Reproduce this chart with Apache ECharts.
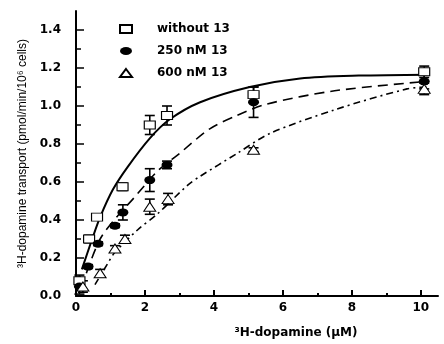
<!DOCTYPE html>
<html>
<head>
<meta charset="utf-8">
<script src="https://cdn.jsdelivr.net/npm/echarts@6/dist/echarts.min.js"></script>
<style>
  html, body { margin: 0; padding: 0; background: #fff; }
  #chart { width: 444px; height: 344px; }
</style>
</head>
<body>
<div id="chart"></div>
<script>
// measured points: x = dopamine (uM), y = transport, err = half error bar
const ctrlX = [0.1, 0.38, 0.61, 1.35, 2.14, 2.64, 5.15, 10.1];
const ctrlY = [0.08, 0.30, 0.415, 0.575, 0.90, 0.95, 1.06, 1.18];
const ctrlErr = [0.03, 0.02, 0.015, 0.02, 0.05, 0.05, 0.04, 0.03];

const mid250X = [0.1, 0.35, 0.64, 1.13, 1.36, 2.14, 2.64, 5.15, 10.1];
const mid250Y = [0.05, 0.155, 0.275, 0.37, 0.44, 0.61, 0.69, 1.02, 1.13];
const mid250Err = [0.04, 0.01, 0.01, 0.01, 0.04, 0.06, 0.02, 0.08, 0.04];

const hi600X = [0.2, 0.7, 1.13, 1.42, 2.14, 2.67, 5.15, 10.1];
const hi600Y = [0.05, 0.12, 0.25, 0.30, 0.47, 0.51, 0.77, 1.09];
const hi600Err = [0.03, 0.02, 0.015, 0.02, 0.04, 0.03, 0.01, 0.03];

// fitted curves
const fitCtrlX = [0.17, 0.45, 0.7, 1.07, 1.5, 2.14, 2.72, 3.6, 5.04, 6.5, 8.2, 10.2];
const fitCtrlY = [0.14, 0.29, 0.415, 0.56, 0.68, 0.83, 0.93, 1.02, 1.10, 1.145, 1.16, 1.165];
const fit250X = [0.3, 0.7, 1.2, 1.65, 2.38, 3.0, 3.88, 4.67, 5.53, 7.5, 10.2];
const fit250Y = [0.12, 0.30, 0.42, 0.51, 0.66, 0.75, 0.88, 0.95, 1.01, 1.08, 1.13];
const fit600X = [0.55, 0.9, 1.13, 1.8, 2.35, 3.25, 3.6, 4.67, 5.62, 7.5, 9.6, 10.2];
const fit600Y = [0.06, 0.165, 0.23, 0.35, 0.43, 0.585, 0.63, 0.75, 0.855, 0.98, 1.09, 1.10];

// axis ticks
const xTicks = [0, 2, 4, 6, 8, 10];
const xMinor = [1, 3, 5, 7, 9];
const yTicks = [0, 0.2, 0.4, 0.6, 0.8, 1.0, 1.2, 1.4];
const yMinor = [0.1, 0.3, 0.5, 0.7, 0.9, 1.1, 1.3];

const legendNames = ['without 13', '250 nM 13', '600 nM 13'];

const font = 'Liberation Sans, Arial, sans-serif';
const boldFont = 'DejaVu Sans, Verdana, sans-serif';
const ellipse = 'path://M0,4A6,4 0 1,1 12,4A6,4 0 1,1 0,4Z';

const pairs = (xs, ys) => xs.map((x, i) => [x, ys[i]]);

function errorBars(xs, ys, errs) {
  return {
    type: 'custom',
    silent: true,
    z: 3,
    data: xs.map((x, i) => [x, ys[i], errs[i]]),
    renderItem: (params, api) => {
      const x = api.value(0), y = api.value(1), e = api.value(2);
      const top = api.coord([x, y + e]);
      const bot = api.coord([x, y - e]);
      const hw = 5;
      const st = { stroke: '#000', lineWidth: 1.6 };
      return {
        type: 'group',
        children: [
          { type: 'line', shape: { x1: top[0], y1: top[1], x2: bot[0], y2: bot[1] }, style: st },
          { type: 'line', shape: { x1: top[0] - hw, y1: top[1], x2: top[0] + hw, y2: top[1] }, style: st },
          { type: 'line', shape: { x1: bot[0] - hw, y1: bot[1], x2: bot[0] + hw, y2: bot[1] }, style: st }
        ]
      };
    }
  };
}

function fitLine(xs, ys, type) {
  return {
    type: 'line',
    data: pairs(xs, ys),
    showSymbol: false,
    smooth: 0.3,
    silent: true,
    z: 2,
    lineStyle: { color: '#000', width: type === 'solid' ? 2 : 1.6, type: type }
  };
}

const chart = echarts.init(document.getElementById('chart'));

chart.setOption({
  backgroundColor: '#fff',
  animation: false,
  grid: { left: 76, top: 11, right: 6, bottom: 44 },
  legend: {
    orient: 'vertical',
    left: 114,
    top: 18,
    itemWidth: 12,
    itemHeight: 8,
    itemGap: 10,
    selectedMode: false,
    data: [
      { name: legendNames[0], icon: 'rect' },
      { name: legendNames[1], icon: ellipse },
      { name: legendNames[2], icon: 'triangle' }
    ],
    formatter: n => '{t|' + n + '}',
    textStyle: {
      rich: { t: { padding: [0, 0, 0, 20], fontFamily: boldFont, fontWeight: 'bold', fontSize: 12, color: '#000' } }
    }
  },
  xAxis: [
    {
      type: 'value', min: 0, max: 10.5,
      name: '³H-dopamine (μM)',
      nameLocation: 'middle',
      nameGap: 31,
      nameTextStyle: { fontFamily: boldFont, fontWeight: 'bold', fontSize: 12, color: '#000', padding: [0, 0, 0, 78] },
      axisLine: { lineStyle: { color: '#000', width: 2 } },
      axisTick: { inside: true, length: 6, customValues: xTicks, lineStyle: { color: '#000', width: 2 } },
      axisLabel: { customValues: xTicks, margin: 6, fontFamily: boldFont, fontWeight: 'bold', fontSize: 12, color: '#000' },
      splitLine: { show: false }
    },
    {
      type: 'value', min: 0, max: 10.5, position: 'bottom',
      axisLine: { show: false },
      axisTick: { inside: true, length: 3, customValues: xMinor, lineStyle: { color: '#000', width: 2 } },
      axisLabel: { show: false },
      splitLine: { show: false }
    }
  ],
  yAxis: [
    {
      type: 'value', min: 0, max: 1.5,
      name: '³H-dopamine transport (pmol/min/10⁶ cells)',
      nameLocation: 'middle',
      nameGap: 47,
      nameTextStyle: { fontFamily: font, fontSize: 12, color: '#000' },
      axisLine: { show: true, lineStyle: { color: '#000', width: 2 } },
      axisTick: { show: true, inside: true, length: 8, customValues: yTicks, lineStyle: { color: '#000', width: 1.5 } },
      axisLabel: {
        customValues: yTicks, margin: 15,
        formatter: v => v.toFixed(1),
        fontFamily: boldFont, fontWeight: 'bold', fontSize: 12, color: '#000'
      },
      splitLine: { show: false }
    },
    {
      type: 'value', min: 0, max: 1.5, position: 'left',
      axisLine: { show: false },
      axisTick: { show: true, inside: true, length: 5, customValues: yMinor, lineStyle: { color: '#000', width: 1.5 } },
      axisLabel: { show: false },
      splitLine: { show: false }
    }
  ],
  series: [
    fitLine(fitCtrlX, fitCtrlY, 'solid'),
    fitLine(fit250X, fit250Y, [10, 6]),
    fitLine(fit600X, fit600Y, [7, 4, 2, 4]),
    errorBars(ctrlX, ctrlY, ctrlErr),
    errorBars(mid250X, mid250Y, mid250Err),
    errorBars(hi600X, hi600Y, hi600Err),
    {
      name: legendNames[0], type: 'scatter', z: 5,
      symbol: 'rect', symbolSize: [11, 8],
      itemStyle: { color: '#fff', borderColor: '#000', borderWidth: 1, opacity: 1 },
      data: pairs(ctrlX, ctrlY)
    },
    {
      name: legendNames[1], type: 'scatter', z: 5,
      symbol: ellipse, symbolSize: [11, 8],
      itemStyle: { color: '#000', opacity: 1 },
      data: pairs(mid250X, mid250Y)
    },
    {
      name: legendNames[2], type: 'scatter', z: 5,
      symbol: 'triangle', symbolSize: [12, 9],
      itemStyle: { color: '#fff', borderColor: '#000', borderWidth: 1, opacity: 1 },
      data: pairs(hi600X, hi600Y)
    }
  ]
});
</script>
</body>
</html>
